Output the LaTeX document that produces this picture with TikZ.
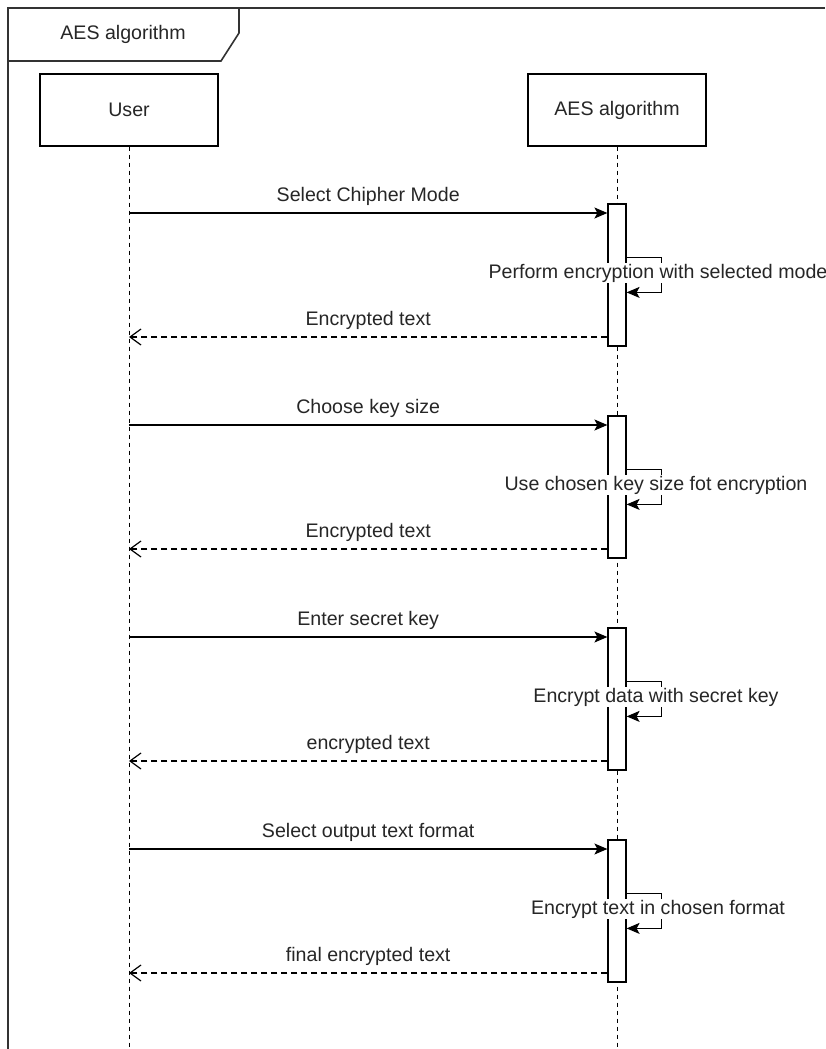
\documentclass[tikz,border=0pt]{standalone}
\usepackage{fontspec}
\setmainfont{Liberation Sans}
\usetikzlibrary{arrows.meta, positioning}

\begin{document}
\begin{tikzpicture}[x=0.5pt, y=-0.5pt,
    every node/.style={font=\fontsize{9.8}{11}\selectfont, text=black!85},
    actor/.style={draw, fill=white, minimum width=89pt, minimum height=36pt,
        inner sep=0pt, line width=0.6pt},
    act/.style={draw, fill=white, minimum width=9pt, minimum height=71pt,
        inner sep=0pt, line width=0.6pt},
    lifeline/.style={dash pattern=on 2pt off 2pt, line width=0.5pt},
    msg/.style={-{Stealth[length=6.5pt,width=5.5pt,inset=1.5pt]}, line width=0.6pt},
    ret/.style={-{Straight Barb[length=5.5pt,width=8pt]},
        dash pattern=on 3pt off 2pt, line width=0.6pt},
    lbl/.style={above},
    selflbl/.style={fill=white, inner sep=0.5pt}]

    \useasboundingbox (0,0) rectangle (825,1049);
    \coordinate (bottom) at (0,1049);

    % frame with its name tab
    \draw[line width=0.8pt, black!80] (825,8) -- (8,8) -- (8,1049);
    \draw[line width=0.8pt, black!80] (8,61) -- (221,61) -- (239,33) -- (239,8);
    \node (frame) at (123,34) {AES algorithm};

    % participants
    \node[actor] (user) at (129,110) {User};
    \node[actor] (aes) at (617,110) {AES algorithm};
    \draw[lifeline] (user.south) -- (user.south |- bottom);
    \draw[lifeline] (aes.south) -- (aes.south |- bottom);

    \node[act] (act1) at (617,275) {};
    \node[act] (act2) at (617,487) {};
    \node[act] (act3) at (617,699) {};
    \node[act] (act4) at (617,911) {};

    % cipher mode
    \coordinate (c1) at (129,213);
    \coordinate (r1) at (129,337);
    \draw[msg] (c1) -- (c1 -| act1.west) node[midway, lbl] {Select Chipher Mode};
    \draw[msg] ([yshift=-27pt]act1.north east) -- ++(35,0) -- ++(0,35)
        -- ([yshift=-44.5pt]act1.north east);
    \node[selflbl] (self1) at (658,273) {Perform encryption with selected mode};
    \draw[ret] (r1 -| act1.west) -- (r1) node[midway, lbl] {Encrypted text};

    % key size
    \coordinate (c2) at (129,425);
    \coordinate (r2) at (129,549);
    \draw[msg] (c2) -- (c2 -| act2.west) node[midway, lbl] {Choose key size};
    \draw[msg] ([yshift=-27pt]act2.north east) -- ++(35,0) -- ++(0,35)
        -- ([yshift=-44.5pt]act2.north east);
    \node[selflbl] (self2) at (656,485) {Use chosen key size fot encryption};
    \draw[ret] (r2 -| act2.west) -- (r2) node[midway, lbl] {Encrypted text};

    % secret key
    \coordinate (c3) at (129,637);
    \coordinate (r3) at (129,761);
    \draw[msg] (c3) -- (c3 -| act3.west) node[midway, lbl] {Enter secret key};
    \draw[msg] ([yshift=-27pt]act3.north east) -- ++(35,0) -- ++(0,35)
        -- ([yshift=-44.5pt]act3.north east);
    \node[selflbl] (self3) at (656,697) {Encrypt data with secret key};
    \draw[ret] (r3 -| act3.west) -- (r3) node[midway, lbl] {encrypted text};

    % output format
    \coordinate (c4) at (129,849);
    \coordinate (r4) at (129,973);
    \draw[msg] (c4) -- (c4 -| act4.west) node[midway, lbl] {Select output text format};
    \draw[msg] ([yshift=-27pt]act4.north east) -- ++(35,0) -- ++(0,35)
        -- ([yshift=-44.5pt]act4.north east);
    \node[selflbl] (self4) at (658,909) {Encrypt text in chosen format};
    \draw[ret] (r4 -| act4.west) -- (r4) node[midway, lbl] {final encrypted text};

\end{tikzpicture}
\end{document}
